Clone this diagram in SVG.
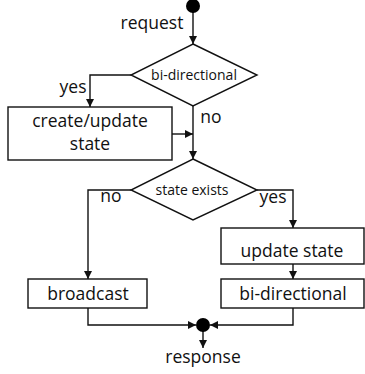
<svg xmlns="http://www.w3.org/2000/svg" width="365" height="374" viewBox="0 0 365 374">
<style>
text{font-family:"Open Sans","Liberation Sans",sans-serif;fill:#111;text-anchor:middle}
.m{font-size:17.5px}
.s{font-size:14px}
.box{fill:#fff;stroke:#111;stroke-width:1.4}
.ln{fill:none;stroke:#111;stroke-width:1.4;marker-end:url(#ah)}
.dot{fill:#000}
</style>
<defs>
<marker id="ah" viewBox="0 0 10 10" refX="10" refY="5" markerWidth="8" markerHeight="8" markerUnits="userSpaceOnUse" orient="auto">
<path d="M0,0 L10,5 L0,10 z" fill="#111"/>
</marker>
</defs>
<g id="connectors">
<path class="ln" d="M193,12 V44"/>
<path class="ln" d="M131,75 H90 V107"/>
<path class="ln" d="M193,106 V159"/>
<path class="ln" d="M172,134 H193"/>
<path class="ln" d="M131,190 H88 V279"/>
<path class="ln" d="M257,190 H293 V228"/>
<path class="ln" d="M293,264 V279"/>
<path class="ln" d="M88,308 V325 H196"/>
<path class="ln" d="M293,308 V325 H210"/>
<path class="ln" d="M203,331 V348"/>
</g>
<g id="start"><circle class="dot" cx="193" cy="6" r="7"/></g>
<g id="request"><text class="m" x="152" y="29">request</text></g>
<g id="decision1">
<polygon class="box" points="193,44 257,75 193,106 131,75"/>
<text class="s" x="194" y="80">bi-directional</text>
</g>
<g id="label-yes1"><text class="m" x="73" y="93">yes</text></g>
<g id="label-no1"><text class="m" x="211" y="123">no</text></g>
<g id="create">
<rect class="box" x="8" y="107" width="164" height="53"/>
<text class="m" x="90" y="127">create/update</text>
<text class="m" x="90" y="150">state</text>
</g>
<g id="decision2">
<polygon class="box" points="193,159 257,190 193,220 131,190"/>
<text class="s" x="192" y="195">state exists</text>
</g>
<g id="label-no2"><text class="m" x="111" y="202">no</text></g>
<g id="label-yes2"><text class="m" x="273" y="203">yes</text></g>
<g id="update">
<rect class="box" x="221" y="228" width="143" height="36"/>
<text class="m" x="292" y="257">update state</text>
</g>
<g id="bidir">
<rect class="box" x="221" y="279" width="143" height="29"/>
<text class="m" x="293" y="300">bi-directional</text>
</g>
<g id="broadcast">
<rect class="box" x="28" y="279" width="119" height="29"/>
<text class="m" x="88" y="300">broadcast</text>
</g>
<g id="merge"><circle class="dot" cx="203" cy="325" r="7"/></g>
<g id="response"><text class="m" x="203" y="363">response</text></g>
</svg>
